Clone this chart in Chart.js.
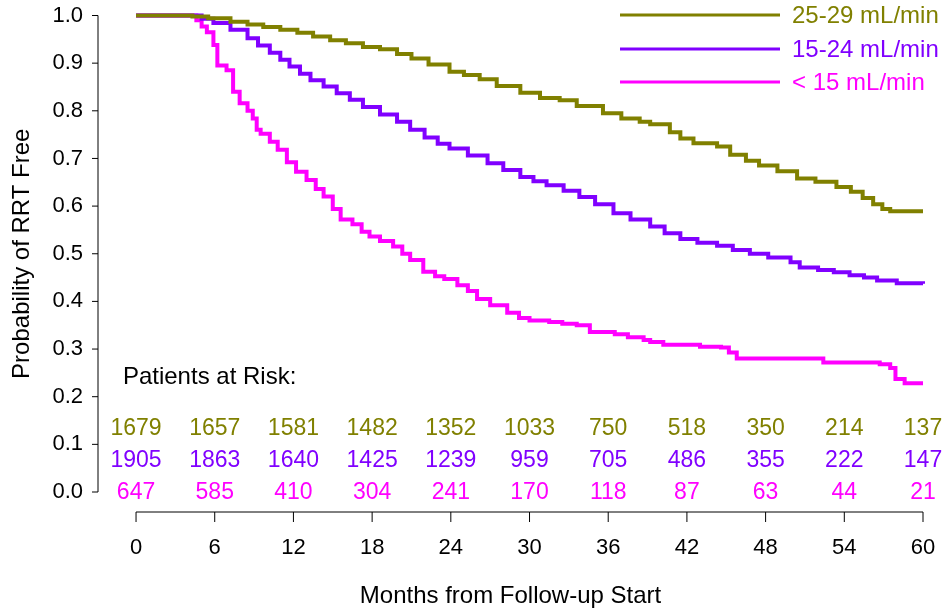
<!DOCTYPE html>
<html>
<head>
<meta charset="utf-8">
<script src="https://cdn.jsdelivr.net/npm/chart.js@4.4.0/dist/chart.umd.min.js"></script>
<style>
  html, body { margin: 0; padding: 0; background: #fff; }
</style>
</head>
<body>
<canvas id="km" width="944" height="613"></canvas>
<script>
// curva 25-29 mL/min
const mesesA = [0, 3.7, 4.3, 5.5, 7.2, 8.5, 9.7, 11.0, 12.3, 13.5, 14.8, 16.0, 17.3, 18.6, 19.9, 21.0, 22.3, 23.9, 25.0, 26.2, 27.5, 29.3, 30.8, 32.3, 33.6, 35.6, 37.0, 38.4, 39.2, 40.7, 41.5, 42.5, 44.3, 45.3, 46.5, 47.5, 48.9, 50.4, 51.8, 53.4, 54.5, 55.4, 56.2, 56.9, 57.5, 60];
const survA = [1.0, 1.0, 0.998, 0.994, 0.987, 0.981, 0.976, 0.970, 0.964, 0.956, 0.948, 0.942, 0.934, 0.929, 0.919, 0.910, 0.897, 0.882, 0.875, 0.866, 0.852, 0.838, 0.827, 0.822, 0.810, 0.795, 0.784, 0.777, 0.772, 0.755, 0.742, 0.732, 0.725, 0.708, 0.695, 0.685, 0.673, 0.658, 0.651, 0.640, 0.630, 0.617, 0.604, 0.594, 0.589, 0.589];

// curva 15-24 mL/min
const mesesB = [0, 4.1, 5.0, 5.9, 7.2, 8.5, 9.3, 10.2, 11.0, 11.7, 12.5, 13.3, 14.3, 15.3, 16.3, 17.3, 18.6, 19.9, 20.9, 22.0, 23.0, 23.9, 25.3, 26.8, 28.0, 29.3, 30.3, 31.3, 32.6, 33.8, 35.0, 36.4, 37.7, 39.2, 40.3, 41.5, 42.8, 44.3, 45.5, 46.8, 48.2, 49.9, 50.6, 52.0, 53.2, 54.4, 55.5, 56.5, 58.0, 60];
const survB = [1.0, 1.0, 0.993, 0.984, 0.970, 0.952, 0.937, 0.922, 0.907, 0.893, 0.878, 0.864, 0.851, 0.837, 0.823, 0.808, 0.792, 0.777, 0.760, 0.744, 0.731, 0.721, 0.706, 0.690, 0.676, 0.661, 0.652, 0.644, 0.632, 0.619, 0.604, 0.585, 0.572, 0.557, 0.543, 0.531, 0.523, 0.517, 0.508, 0.500, 0.492, 0.482, 0.471, 0.466, 0.461, 0.455, 0.450, 0.444, 0.438, 0.437];

// curva < 15 mL/min
const mesesC = [0, 4.1, 4.6, 5.0, 5.4, 5.9, 6.2, 6.9, 7.4, 7.9, 8.5, 8.9, 9.2, 9.5, 10.2, 10.8, 11.5, 12.2, 13.0, 13.7, 14.3, 15.0, 15.6, 16.5, 17.2, 17.8, 18.6, 19.6, 20.3, 20.9, 21.9, 22.8, 23.5, 24.5, 25.3, 26.0, 27.0, 28.3, 29.2, 30.0, 31.5, 32.5, 33.6, 34.6, 36.5, 37.5, 38.7, 39.2, 40.2, 43.0, 44.6, 45.2, 45.8, 52.1, 52.4, 56.7, 57.5, 57.9, 58.6, 60];
const survC = [1.0, 1.0, 0.99, 0.977, 0.965, 0.938, 0.895, 0.885, 0.840, 0.816, 0.800, 0.784, 0.760, 0.752, 0.735, 0.718, 0.692, 0.672, 0.655, 0.636, 0.620, 0.594, 0.572, 0.562, 0.546, 0.536, 0.527, 0.515, 0.500, 0.487, 0.462, 0.453, 0.447, 0.434, 0.422, 0.405, 0.392, 0.376, 0.365, 0.360, 0.357, 0.353, 0.350, 0.336, 0.331, 0.325, 0.319, 0.315, 0.309, 0.305, 0.303, 0.293, 0.280, 0.280, 0.272, 0.268, 0.260, 0.237, 0.228, 0.228];

const etiquetas = ['25-29 mL/min', '15-24 mL/min', '< 15 mL/min'];
const colores = ['#808000', '#8000ff', '#ff00ff'];

// pacientes en riesgo
const mesesRiesgo = [0, 6, 12, 18, 24, 30, 36, 42, 48, 54, 60];
const riesgoA = [1679, 1657, 1581, 1482, 1352, 1033, 750, 518, 350, 214, 137];
const riesgoB = [1905, 1863, 1640, 1425, 1239, 959, 705, 486, 355, 222, 147];
const riesgoC = [647, 585, 410, 304, 241, 170, 118, 87, 63, 44, 21];

const yTicks = [0, 0.1, 0.2, 0.3, 0.4, 0.5, 0.6, 0.7, 0.8, 0.9, 1.0];

const FUENTE = '"Liberation Sans", Arial, sans-serif';

function puntos(meses, valores) {
  return meses.map((m, i) => ({ x: m, y: valores[i] }));
}

// ejes, leyenda y tabla de riesgo
const extras = {
  id: 'extras',
  afterDraw(chart) {
    const ctx = chart.ctx;
    const xs = chart.scales.x;
    const ys = chart.scales.y;
    ctx.save();
    ctx.strokeStyle = '#000';
    ctx.lineWidth = 1;

    // eje y
    const ax = 98;
    ctx.beginPath();
    ctx.moveTo(ax, ys.getPixelForValue(1));
    ctx.lineTo(ax, ys.getPixelForValue(0));
    yTicks.forEach((v) => {
      const py = ys.getPixelForValue(v);
      ctx.moveTo(ax, py);
      ctx.lineTo(ax - 6, py);
    });
    ctx.stroke();

    // eje x
    const ay = 512;
    ctx.beginPath();
    ctx.moveTo(xs.getPixelForValue(0), ay);
    ctx.lineTo(xs.getPixelForValue(60), ay);
    mesesRiesgo.forEach((m) => {
      const px = xs.getPixelForValue(m);
      ctx.moveTo(px, ay);
      ctx.lineTo(px, ay + 10);
    });
    ctx.stroke();

    // leyenda
    ctx.font = '24px ' + FUENTE;
    ctx.textAlign = 'left';
    ctx.textBaseline = 'middle';
    const leyY = [15, 49, 82];
    etiquetas.forEach((t, i) => {
      ctx.strokeStyle = colores[i];
      ctx.lineWidth = 3;
      ctx.beginPath();
      ctx.moveTo(620, leyY[i]);
      ctx.lineTo(780, leyY[i]);
      ctx.stroke();
      ctx.fillStyle = colores[i];
      ctx.fillText(t, 792, leyY[i] + 1);
    });

    // tabla de pacientes en riesgo
    ctx.fillStyle = '#000';
    ctx.fillText('Patients at Risk:', xs.getPixelForValue(-1), ys.getPixelForValue(0.24));
    ctx.font = '23px ' + FUENTE;
    ctx.textAlign = 'center';
    const filas = [riesgoA, riesgoB, riesgoC];
    const filaY = [0.135, 0.068, 0.0];
    filas.forEach((fila, i) => {
      ctx.fillStyle = colores[i];
      fila.forEach((n, j) => {
        ctx.fillText(String(n), xs.getPixelForValue(mesesRiesgo[j]), ys.getPixelForValue(filaY[i]) + 1);
      });
    });
    ctx.restore();
  }
};

new Chart(document.getElementById('km'), {
  type: 'line',
  data: {
    datasets: [
      { label: etiquetas[0], data: puntos(mesesA, survA), borderColor: colores[0] },
      { label: etiquetas[1], data: puntos(mesesB, survB), borderColor: colores[1] },
      { label: etiquetas[2], data: puntos(mesesC, survC), borderColor: colores[2] },
    ],
  },
  options: {
    responsive: false,
    animation: false,
    layout: { autoPadding: false, padding: { top: 15.5, right: 21, bottom: 0, left: 0 } },
    elements: {
      line: { borderWidth: 4, stepped: true, tension: 0, fill: false },
      point: { radius: 0 },
    },
    datasets: { line: { clip: false } },
    plugins: { legend: { display: false }, tooltip: { enabled: false } },
    scales: {
      x: {
        type: 'linear',
        min: -2.9,
        max: 60,
        grid: { display: false, drawTicks: false },
        border: { display: false },
        afterBuildTicks: (scale) => {
          scale.ticks = mesesRiesgo.map((m) => ({ value: m }));
        },
        afterFit: (scale) => {
          scale.height = 121;
          scale.paddingLeft = 0;
          scale.paddingRight = 0;
        },
        ticks: {
          autoSkip: false,
          maxRotation: 0,
          padding: 43,
          color: '#000',
          font: { family: FUENTE, size: 22 },
        },
        title: {
          display: true,
          text: 'Months from Follow-up Start',
          color: '#000',
          font: { family: FUENTE, size: 24 },
          padding: { top: 0, bottom: 2 },
        },
      },
      y: {
        min: 0,
        max: 1,
        grid: { display: false, drawTicks: false },
        border: { display: false },
        afterBuildTicks: (scale) => {
          scale.ticks = yTicks.map((v) => ({ value: v }));
        },
        afterFit: (scale) => {
          scale.width = 98;
          scale.paddingTop = 0;
          scale.paddingBottom = 0;
        },
        ticks: {
          padding: 15,
          color: '#000',
          font: { family: FUENTE, size: 22 },
          callback: (v) => v.toFixed(1),
        },
        title: {
          display: true,
          text: 'Probability of RRT Free',
          color: '#000',
          font: { family: FUENTE, size: 24 },
          padding: { top: 8, bottom: 0 },
        },
      },
    },
  },
  plugins: [extras],
});
</script>
</body>
</html>
